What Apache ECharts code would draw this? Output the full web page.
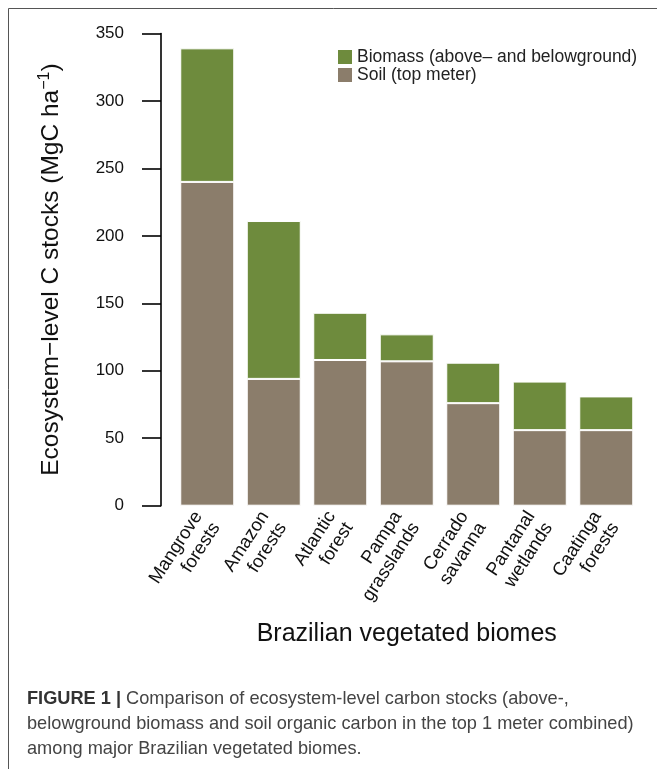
<!DOCTYPE html>
<html>
<head>
<meta charset="utf-8">
<script src="https://cdn.jsdelivr.net/npm/echarts@6/dist/echarts.min.js"></script>
<style>
html,body{margin:0;padding:0;background:#fff;}
#chart{width:657px;height:769px;}
</style>
</head>
<body>
<div id="chart"></div>
<script>
const categories = ["Mangrove\nforests","Amazon\nforests","Atlantic\nforest","Pampa\ngrasslands","Cerrado\nsavanna","Pantanal\nwetlands","Caatinga\nforests"];
const soil = [240, 94, 108, 107, 76, 56, 56];
const biomass = [99, 117, 35, 20, 30, 36, 25];
const yTicks = [0, 50, 100, 150, 200, 250, 300, 350];
const seriesNames = ["Soil (top meter)", "Biomass (above\u2013 and belowground)"];
const yTitle = "Ecosystem\u2212level C stocks (MgC ha";
const xTitle = "Brazilian vegetated biomes";
const captionBold = "FIGURE 1 |";
const captionLines = [
  " Comparison of ecosystem-level carbon stocks (above-,",
  "belowground biomass and soil organic carbon in the top 1 meter combined)",
  "among major Brazilian vegetated biomes."
];

const FONT = "'Liberation Sans', Arial, Helvetica, sans-serif";
const chart = echarts.init(document.getElementById('chart'), null, {renderer: 'canvas'});

const option = {
  backgroundColor: '#ffffff',
  animation: false,
  textStyle: {fontFamily: FONT},
  grid: {left: 174, right: 17.5, top: 33.5, bottom: 263.3, containLabel: false},
  legend: {
    orient: 'vertical',
    left: 333, top: 43,
    itemWidth: 14, itemHeight: 14, itemGap: 0,
    icon: 'rect',
    data: [seriesNames[1], seriesNames[0]],
    textStyle: {fontFamily: FONT, fontSize: 17.5, color: '#222', lineHeight: 18, padding: [0,0,0,0]},
    itemStyle: {borderWidth: 0}
  },
  xAxis: {
    type: 'category',
    data: categories,
    axisLine: {show: false},
    axisTick: {show: false},
    axisLabel: {
      interval: 0, rotate: 57, margin: 13,
      fontFamily: FONT, fontSize: 18.5, color: '#111', lineHeight: 21, align: 'right',
      padding: [0, 0, 0, 0]
    },
    name: xTitle,
    nameLocation: 'middle',
    nameGap: 116,
    nameTextStyle: {fontFamily: FONT, fontSize: 25, color: '#111'}
  },
  yAxis: {
    type: 'value',
    min: 0, max: 350, interval: 50,
    offset: 13,
    splitLine: {show: false},
    axisLine: {show: true, lineStyle: {color: '#000', width: 1.6}},
    axisTick: {show: true, length: 19, lineStyle: {color: '#000', width: 1.6}},
    axisLabel: {
      margin: 37, fontFamily: FONT, fontSize: 17, color: '#111',
      formatter: v => yTicks.includes(v) ? String(v) : ''
    },
    name: '{t|' + yTitle + '}{s|\u22121}{t|)}',
    nameLocation: 'middle',
    nameGap: 96,
    nameRotate: 90,
    nameTextStyle: {
      fontFamily: FONT, fontSize: 24.5, color: '#111',
      rich: {
        t: {fontFamily: FONT, fontSize: 24.5, color: '#111'},
        s: {fontFamily: FONT, fontSize: 16, color: '#111', verticalAlign: 'top', padding: [0,0,12,0]}
      }
    }
  },
  series: [
    {
      name: seriesNames[0], type: 'bar', stack: 'total', data: soil,
      barWidth: 54,
      itemStyle: {color: '#8B7D6B', borderColor: '#ffffff', borderWidth: 1}
    },
    {
      name: seriesNames[1], type: 'bar', stack: 'total', data: biomass,
      barWidth: 54,
      itemStyle: {color: '#6E8B3D', borderColor: '#ffffff', borderWidth: 1}
    }
  ],
  graphic: [
    {type: 'rect', shape: {x: 8.5, y: 8.5, width: 800, height: 900}, style: {fill: 'none', stroke: '#555', lineWidth: 1}, silent: true},
    {
      type: 'text', left: 27, top: 690,
      style: {
        text: '{b|' + captionBold + '}{r|' + captionLines[0] + '}\n{r|' + captionLines[1] + '}\n{r|' + captionLines[2] + '}',
        rich: {
          b: {fontFamily: FONT, fontSize: 18.2, fontWeight: 'bold', fill: '#333', lineHeight: 25},
          r: {fontFamily: FONT, fontSize: 18.2, fill: '#444', lineHeight: 25}
        }
      }
    }
  ]
};
chart.setOption(option);
</script>
</body>
</html>
